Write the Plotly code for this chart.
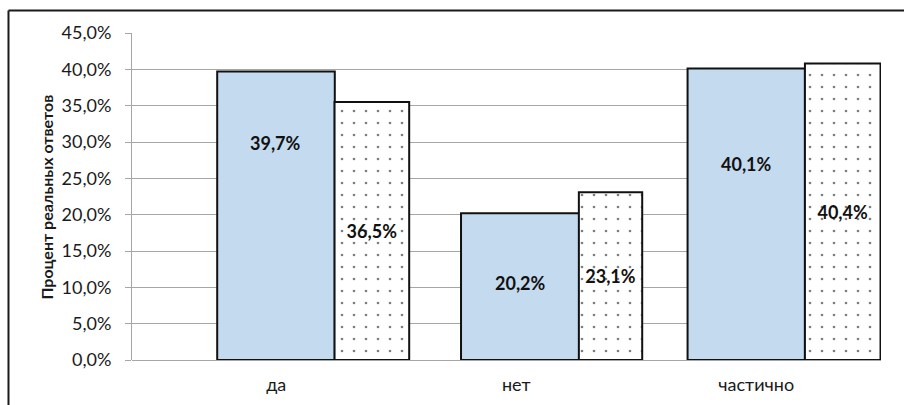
import plotly.graph_objects as go

# ---- data ----
categories = ["да", "нет", "частично"]
series_a_values = [39.7, 20.2, 40.1]          # light blue bars (heights)
series_b_values = [35.5, 23.1, 40.8]          # dotted bars (heights)
series_a_labels = ["39,7%", "20,2%", "40,1%"]
series_b_labels = ["36,5%", "23,1%", "40,4%"]
y_title = "Процент реальных ответов"

# ---- style / layout helpers (not data) ----
a_offsets = [-0.246, -0.230, -0.286]
a_widths = [0.490, 0.492, 0.489]
b_offsets = [0.243, 0.261, 0.203]
b_widths = [0.311, 0.264, 0.315]
a_label_frac = [0.753, 0.525, 0.671]   # vertical position of blue labels as fraction of bar height

FONT = "Lato"
TXT = "#1a1a1a"
GRID = "#a6a6a6"

fig = go.Figure()
fig.add_trace(go.Bar(
    x=categories, y=series_a_values,
    offset=a_offsets, width=a_widths,
    marker=dict(color="#c4daee", line=dict(color="#111111", width=2)),
    hoverinfo="skip", showlegend=False,
))
fig.add_trace(go.Bar(
    x=categories, y=series_b_values,
    offset=b_offsets, width=b_widths,
    text=series_b_labels, textposition="inside", insidetextanchor="middle",
    textangle=0, constraintext="none",
    textfont=dict(family=FONT, size=18, color="#111111", weight="bold"),
    marker=dict(color="white", line=dict(color="#111111", width=2),
                pattern=dict(shape=".", fgcolor="#000000", bgcolor="white",
                             size=12, solidity=0.04)),
    hoverinfo="skip", showlegend=False,
))

annotations = []
for i, (v, lab) in enumerate(zip(series_a_values, series_a_labels)):
    annotations.append(dict(
        x=i + a_offsets[i] + a_widths[i] / 2, y=v * a_label_frac[i],
        xref="x", yref="y", text=f"<b>{lab}</b>", showarrow=False,
        font=dict(family=FONT, size=18, color="#111111"),
        xanchor="center", yanchor="middle",
    ))
annotations.append(dict(
    x=-0.1135, y=0.5, xref="paper", yref="paper", text=f"<b>{y_title}</b>",
    textangle=-90, showarrow=False, xanchor="center", yanchor="middle",
    font=dict(family=FONT, size=16, color=TXT),
))

shapes = [
    dict(type="line", xref="paper", yref="paper", x0=-0.1649, x1=-0.1649, y0=-0.5, y1=1.0688,
         line=dict(color="#1a1a1a", width=2)),
    dict(type="line", xref="paper", yref="paper", x0=-0.1649, x1=1.2, y0=1.0688, y1=1.0688,
         line=dict(color="#1a1a1a", width=2)),
]

fig.update_layout(
    width=904, height=405,
    margin=dict(l=132, r=23, t=33, b=45, autoexpand=False),
    paper_bgcolor="white", plot_bgcolor="white",
    separators=", ",
    barmode="overlay",
    font=dict(family=FONT, size=18, color=TXT),
    annotations=annotations, shapes=shapes,
)
fig.update_xaxes(
    type="category", range=[-0.601, 2.52], automargin=False,
    showgrid=False, showline=False, ticks="",
    tickfont=dict(family=FONT, size=18, color=TXT),
    ticklabelstandoff=12,
)
fig.update_yaxes(
    range=[0, 45], dtick=5, tickformat=".1f", ticksuffix="%", automargin=False,
    showgrid=True, gridcolor=GRID, gridwidth=1,
    showline=True, linecolor=GRID, linewidth=1,
    ticks="outside", ticklen=6, tickcolor=GRID,
    tickfont=dict(family=FONT, size=18, color=TXT),
    ticklabelstandoff=10,
    zeroline=True, zerolinecolor=GRID, zerolinewidth=1,
)

fig.write_html("out.html")
